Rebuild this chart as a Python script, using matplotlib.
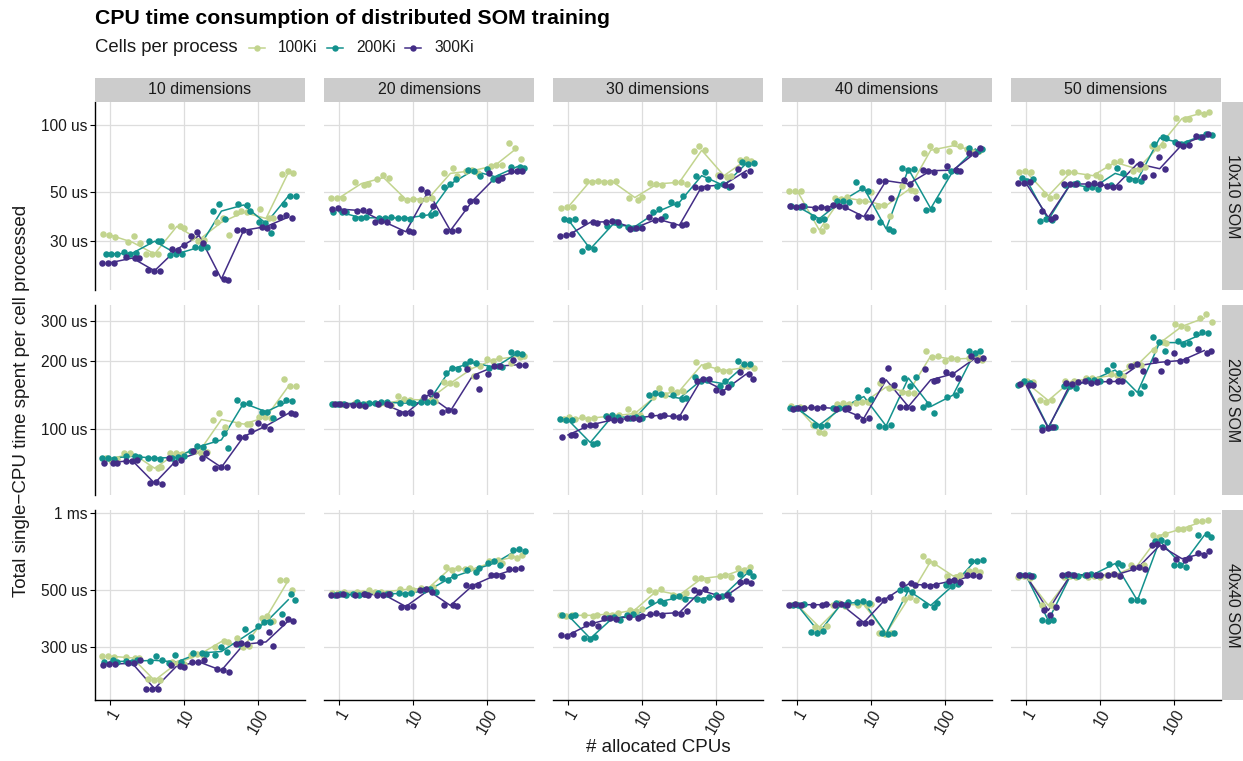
import numpy as np
import matplotlib
matplotlib.use("Agg")
import matplotlib.pyplot as plt
from matplotlib.lines import Line2D
from matplotlib.patches import Rectangle
from matplotlib.ticker import NullLocator

plt.rcParams['font.family'] = ['Liberation Sans', 'DejaVu Sans']

# ---------------- data ----------------
X_CPUS = [1, 2, 4, 8, 16, 32, 64, 128, 256]
DIMS = ["10 dimensions", "20 dimensions", "30 dimensions", "40 dimensions", "50 dimensions"]
SOMS = ["10x10 SOM", "20x20 SOM", "40x40 SOM"]
SERIES = ["100Ki", "200Ki", "300Ki"]
COLORS = ["#C2D48E", "#13918D", "#432D86"]
YTICKS = [[30, 50, 100], [100, 200, 300], [300, 500, 1000]]
YTICKLABELS = [["30 us", "50 us", "100 us"], ["100 us", "200 us", "300 us"], ["300 us", "500 us", "1 ms"]]
XTICKS = [1, 10, 100]
XTICKLABELS = ["1", "10", "100"]

# values in microseconds, three replicate runs per CPU count
# ---- 10x10 SOM ----
s10_d10_100 = [(32.5,32,31.5),(29.7,31.6,29.5),(26.3,26.3,26.3),(35.2,35,34.5),(31.5,30,30.5),(36.5,38,32),(40,41,40.5),(42,38,38),(60,62,61)]
s10_d10_200 = [(26.3,26.3,26.3),(26.9,26.3,26.5),(30,30,30),(26.1,26.3,26.3),(28.2,28,28.3),(41,44.2,37.9),(44.3,43.7,41.2),(36.5,36.1,32.6),(44.2,47.8,47.8)]
s10_d10_300 = [(24,23.9,24),(25.4,25.2,25.2),(22.2,22.1,22.0),(27.6,27.3,28.8),(31.8,32.9,29.4),(21.6,20.3,20.1),(33.6,33.6,33.0),(34.9,34.3,35),(38.5,39.4,38.1)]
s10_d20_100 = [(47.2,47,47),(55.3,53.9,54.5),(57.2,59.8,58),(46.9,46.1,46.3),(46.1,46.6,46.9),(60.6,63.9,59.2),(62.3,62.7,60.6),(65.4,66.3,65.8),(82.7,79,70.6)]
s10_d20_200 = [(40.7,40.7,40.7),(38.2,38.1,38.4),(38.3,38.1,38.4),(38.1,38.1,37.9),(39.4,39.2,40.1),(52.8,54.3,57.2),(62.9,62.3,59.2),(63.3,57.2,58.6),(65,65,64)]
s10_d20_300 = [(41.9,42.2,41.2),(41.2,41.5,41.2),(36.5,37.1,36.8),(33.1,33.2,33.1),(51.6,50.2,43.3),(33.5,33.3,33.8),(42.4,45.7,45.7),(60.6,56.6,57.8),(62.3,62,62)]
s10_d30_100 = [(42.4,43,42.7),(56.2,55.3,56),(55.6,55.6,55.8),(47.2,46.1,47.5),(54.7,54.3,54),(55.6,55.3,54.3),(76.7,80.2,77),(59.8,58.2,59.2),(69.6,70.2,68.8)]
s10_d30_200 = [(37.8,37.4,37.6),(27.2,28.2,27.7),(35.3,36.5,35.6),(34.9,34.4,34.9),(40.7,42.1,38.9),(44.9,44.2,47.8),(59.2,61.3,57.0),(53.4,54.3,52.5),(67.9,66.5,67.2)]
s10_d30_300 = [(31.6,31.9,32.3),(36.5,36.8,36.2),(36.8,37.0,36.5),(34.1,34.4,34.5),(38.4,37.4,37.8),(35.4,35.4,35.8),(52.8,52.1,52.8),(59.2,53.9,53.4),(63.4,59.6,62.3)]
s10_d40_100 = [(50.7,50.7,50.7),(33.7,33.5,35.0),(47.2,46.5,47.5),(45.7,45.7,50),(43.4,43.7,39.1),(53.4,51.1,50.7),(74.9,80.2,77),(76.7,82.7,80.7),(78,75.4,76.7)]
s10_d40_200 = [(43.1,43,43.3),(38.4,37.4,37.9),(45.4,45.7,44.9),(55.3,52.2,50.7),(36.8,34.1,33.5),(64.0,63.0,63.4),(41.3,42.1,46.1),(59.2,62.1,62.3),(79,76.7,78)]
s10_d40_300 = [(43.4,43.0,43.1),(42.2,42.6,42.4),(43.7,43.4,43.0),(39.1,38.4,38.7),(56.2,56.2,47.0),(56.6,54.3,46.9),(62.7,62.3,61.3),(65.6,62.7,62.3),(74.9,74.2,79)]
s10_d50_100 = [(61.3,62.3,61.7),(49,46.9,48),(61.3,61.7,61.3),(59.2,59.8,58.2),(65.6,68.0,69.2),(62.3,63.4,64.5),(80.7,78.7,81.6),(108,106,107),(115,112,114)]
s10_d50_200 = [(57.7,56.2,57.2),(37.1,37.9,37.4),(54,54.3,54.7),(52.1,52.5,51.6),(53.9,63.8,60.6),(57.2,56.6,56.2),(81.9,88.1,87.5),(83.6,82.2,82.9),(88.1,91.1,90.2)]
s10_d50_300 = [(54.7,54.7,55.3),(40.9,37.9,38.4),(54.3,54.3,54.3),(54.3,54.7,54.3),(53.4,52.5,52.8),(69.2,67,58.6),(59.8,71.6,63.6),(82.2,80.7,81.6),(89.6,88.1,91.1)]
# ---- 20x20 SOM ----
s20_d10_100 = [(74.2,72.9,73.5),(78.6,78,75.4),(67,67,68.1),(78.6,78,77.5),(79.9,78.6,79.3),(110,118,102.4),(105,105,105),(112.6,113.3,111.5),(166.4,154,154)]
s20_d10_200 = [(74.2,74.2,73.5),(75.6,75.6,75.2),(74.2,74.2,73.5),(74.2,74.9,75.6),(79.9,84.1,83.5),(89.4,95.7,82.2),(134,129,130),(119,119,111.5),(129.9,133.5,132.4)]
s20_d10_300 = [(70.5,71,71),(72.4,72.4,72.9),(57.5,58,57.1),(74.2,71,72.9),(80.2,74.2,78.6),(67,68.1,67.6),(92.5,92.5,98),(106,103,99.7),(118,117,116.5)]
s20_d20_100 = [(129,129,128),(130,127.7,129),(129,130,128),(140,135,134),(134,134,132.6),(160.4,159,158.3),(185.5,172,189),(203,200,205.6),(195,208.7,210)]
s20_d20_200 = [(129,129,129),(132,129,130),(130,131,132),(130,131,130),(131,131,132),(177.5,185.5,183.6),(194,198.6,196.2),(185.5,189,187),(217.7,216,214.5)]
s20_d20_300 = [(129,129,127.7),(127.7,127.7,126.6),(129,129,127.7),(118,117,117),(139,146,141),(119,121.4,120),(183.6,172,149.5),(174,190,189),(202,192,192)]
s20_d30_100 = [(111,112.6,110.5),(112.6,110.4,111.5),(114,113,115.3),(122,117,115),(139,151.6,141),(149.5,146,147),(197,189,192),(183.6,181,180.6),(187,189,185.5)]
s20_d30_200 = [(110.4,109.6,108.9),(87.9,85.8,87),(114,115.3,113),(111.5,112.6,111.5),(141,143.9,142.5),(141,135,136.6),(170,162,164.7),(154,162,158.3),(200,194,194)]
s20_d30_300 = [(92.5,94,94),(103,104,104),(111.5,108.9,109.6),(111.5,111.5,110.4),(115,114,114.6),(114,112.6,113.3),(163.6,166,166),(148,146,153),(179.3,174.7,167)]
s20_d40_100 = [(126.4,125,124.2),(104,97.3,96.3),(129,130,128.5),(130,132.1,131),(159,151.6,153),(146,144.8,144),(222,208.7,210),(198.6,205.6,203.5),(205.6,208,202)]
s20_d40_200 = [(123.4,123.4,122.2),(104,103,104),(123.4,123.4,123.4),(139,148.5,136),(103,102.4,104),(167.8,155,169.5),(125.5,129,118),(138,141,148),(222,216,220)]
s20_d40_300 = [(122,123.4,123.4),(125.5,123.4,124.5),(122.6,122.6,123.4),(114,108.9,111.5),(164.7,185.5,156),(125.5,125.5,123.4),(183.6,162,164.7),(179,175,167.8),(209,202,205.6)]
s20_d50_100 = [(159,162,160.4),(133.5,132,134.8),(162,162,160.4),(167.5,167.5,166),(175,173,171.6),(189,194,192),(224,241,239.6),(291,284,279),(309,322,296)]
s20_d50_200 = [(156.5,162,159),(102.4,101.7,101.7),(154,155,151.5),(165,165,163.6),(182,192,177.5),(144.8,144.8,154),(254.4,241,222),(243.5,238,240.5),(263,269,265)]
s20_d50_300 = [(158,156.5,156.5),(99,100.7,101.7),(159,158,160.4),(162,160,161.2),(162,162,163.6),(190,194,181),(202,181,197),(217.6,198.6,200.8),(225,216,222)]
# ---- 40x40 SOM ----
s40_d10_100 = [(277,277,275),(275,273,273),(225,223,223),(263,260,259),(281,283,281),(300,319,316),(327,301,303),(391,396,380),(547,547,500)]
s40_d10_200 = [(263,269,264),(265,263,267),(265,277,267),(260,281,263),(285,285,283),(279,300,289),(308,354,329),(365,376,378),(406,483,460)]
s40_d10_300 = [(257,259,258),(260,260,267),(207,207,207),(257,254,252),(263,263,267),(246,244,241),(308,312,308),(315,345,303),(373,388,380)]
s40_d20_100 = [(490,488,492),(495,490,500),(493,495,490),(505,510,500),(510,505,515),(620,600,610),(605,610,600),(650,660,640),(680,670,690)]
s40_d20_200 = [(482,485,480),(483,480,485),(487,483,485),(487,485,490),(500,505,495),(560,550,570),(600,590,610),(640,650,630),(720,728,710)]
s40_d20_300 = [(482,480,485),(482,485,480),(482,480,484),(433,430,436),(500,505,495),(437,440,435),(523,520,526),(572,575,570),(609,605,612)]
s40_d30_100 = [(400,398,402),(400,398,402),(405,402,408),(420,415,425),(500,495,505),(480,470,490),(557,560,550),(570,575,565),(610,600,620)]
s40_d30_200 = [(400,398,402),(325,322,328),(390,395,385),(400,405,395),(450,455,445),(470,475,465),(465,460,470),(480,475,485),(580,590,570)]
s40_d30_300 = [(335,332,338),(370,375,365),(390,392,388),(395,392,398),(405,410,400),(410,405,415),(500,495,505),(470,480,465),(540,545,535)]
s40_d40_100 = [(440,442,438),(360,355,365),(440,445,435),(440,438,442),(340,338,342),(465,470,460),(683,650,640),(570,565,575),(597,600,590)]
s40_d40_200 = [(440,438,442),(343,340,346),(445,440,450),(450,455,445),(340,338,342),(500,505,495),(437,430,445),(523,520,530),(654,650,660)]
s40_d40_300 = [(440,442,438),(440,438,442),(440,442,438),(375,372,378),(465,460,470),(530,535,525),(523,520,526),(546,550,540),(572,575,568)]
s40_d50_100 = [(566,570,560),(437,440,432),(566,570,562),(566,568,564),(575,578,570),(626,620,630),(820,810,830),(870,865,875),(935,930,940)]
s40_d50_200 = [(572,575,570),(382,380,385),(572,575,570),(576,578,574),(637,640,630),(457,460,455),(782,790,775),(626,630,620),(820,830,810)]
s40_d50_300 = [(572,575,568),(418,400,430),(576,580,572),(574,576,572),(574,578,570),(610,615,605),(750,760,740),(665,660,670),(700,690,710)]

PANEL_DATA = [
    [[s10_d10_100, s10_d10_200, s10_d10_300], [s10_d20_100, s10_d20_200, s10_d20_300],
     [s10_d30_100, s10_d30_200, s10_d30_300], [s10_d40_100, s10_d40_200, s10_d40_300],
     [s10_d50_100, s10_d50_200, s10_d50_300]],
    [[s20_d10_100, s20_d10_200, s20_d10_300], [s20_d20_100, s20_d20_200, s20_d20_300],
     [s20_d30_100, s20_d30_200, s20_d30_300], [s20_d40_100, s20_d40_200, s20_d40_300],
     [s20_d50_100, s20_d50_200, s20_d50_300]],
    [[s40_d10_100, s40_d10_200, s40_d10_300], [s40_d20_100, s40_d20_200, s40_d20_300],
     [s40_d30_100, s40_d30_200, s40_d30_300], [s40_d40_100, s40_d40_200, s40_d40_300],
     [s40_d50_100, s40_d50_200, s40_d50_300]],
]

# ---------------- layout ----------------
W, H = 1243, 761
fig = plt.figure(figsize=(W / 100, H / 100), dpi=100)
fig.patch.set_facecolor("white")

COL_LEFT = [95, 324, 553, 782, 1011]
PW = 210
ROW_TOP = [102, 305, 510]
ROW_H = [188, 190, 190]
YLIMS = [(18.1, 127), (51, 353), (187, 1030)]
XLIM = (0.627, 431)
JIT = [(-0.09, -0.01, 0.07), (-0.06, 0.02, 0.10), (-0.11, -0.03, 0.05), (-0.08, 0.04, 0.09)]
STRIP_FILL = "#CCCCCC"
GRID = "#DDDDDD"
TXT = "#1A1A1A"


def fx(px):
    return px / W


def fy(py):
    return 1 - py / H


for r in range(3):
    for c in range(5):
        ax = fig.add_axes([fx(COL_LEFT[c]), fy(ROW_TOP[r] + ROW_H[r]), PW / W, ROW_H[r] / H])
        ax.set_xscale("log")
        ax.set_yscale("log")
        ax.set_xlim(*XLIM)
        ax.set_ylim(*YLIMS[r])
        ax.set_xticks(XTICKS)
        ax.set_xticklabels(XTICKLABELS)
        ax.set_yticks(YTICKS[r])
        ax.set_yticklabels(YTICKLABELS[r])
        ax.xaxis.set_minor_locator(NullLocator())
        ax.yaxis.set_minor_locator(NullLocator())
        ax.grid(True, which="major", color=GRID, linewidth=0.9)
        ax.set_axisbelow(True)
        for sp in ax.spines.values():
            sp.set_visible(False)
        if c == 0:
            ax.spines["left"].set_visible(True)
            ax.spines["left"].set_linewidth(1.0)
            ax.spines["left"].set_color("black")
            ax.tick_params(axis="y", length=3.4, width=0.8, color="black", pad=2,
                           labelsize=11.2, labelcolor=TXT)
        else:
            ax.tick_params(axis="y", length=0, labelleft=False)
        if r == 2:
            ax.spines["bottom"].set_visible(True)
            ax.spines["bottom"].set_linewidth(1.0)
            ax.spines["bottom"].set_color("black")
            ax.tick_params(axis="x", length=3.4, width=0.8, color="black", pad=1.5,
                           labelsize=11.2, labelcolor=TXT)
            for lab in ax.get_xticklabels():
                lab.set_rotation(60)
                lab.set_ha("right")
                lab.set_va("top")
                lab.set_rotation_mode("anchor")
        else:
            ax.tick_params(axis="x", length=0, labelbottom=False)

        for s in range(3):
            reps = np.array(PANEL_DATA[r][c][s], dtype=float)
            med = np.median(reps, axis=1)
            ax.plot(X_CPUS, med, color=COLORS[s], linewidth=1.1, zorder=2 + s * 0.1)
        for s in range(3):
            reps = np.array(PANEL_DATA[r][c][s], dtype=float)
            xs, ys = [], []
            for k, xv in enumerate(X_CPUS):
                offs = JIT[(r + 2 * c + s + k) % len(JIT)]
                for j in range(3):
                    xs.append(xv * 10 ** offs[j])
                    ys.append(reps[k, j])
            ax.scatter(xs, ys, s=22, color=COLORS[s], linewidths=0, zorder=3 + s * 0.1)

# top strips
for c in range(5):
    fig.add_artist(Rectangle((fx(COL_LEFT[c]), fy(102)), PW / W, 24 / H,
                             transform=fig.transFigure, facecolor=STRIP_FILL, edgecolor="none"))
    fig.text(fx(COL_LEFT[c] + PW / 2), fy(90), DIMS[c], ha="center", va="center",
             fontsize=11.5, color=TXT)
# right strips
for r in range(3):
    fig.add_artist(Rectangle((fx(1222), fy(ROW_TOP[r] + ROW_H[r])), 21 / W, ROW_H[r] / H,
                             transform=fig.transFigure, facecolor=STRIP_FILL, edgecolor="none"))
    fig.text(fx(1232.5), fy(ROW_TOP[r] + ROW_H[r] / 2), SOMS[r], ha="center", va="center",
             rotation=-90, fontsize=11.5, color=TXT)

# titles
fig.text(fx(95), fy(18), "CPU time consumption of distributed SOM training",
         ha="left", va="center", fontsize=15.3, fontweight="bold", color="black")
fig.text(fx(658), fy(748), "# allocated CPUs", ha="center", va="center", fontsize=13.5, color=TXT)
fig.text(fx(22), fy(401), "Total single\u2212CPU time spent per cell processed", ha="center",
         va="center", rotation=90, fontsize=13.5, color=TXT)

# legend
fig.text(fx(95), fy(48), "Cells per process", ha="left", va="center", fontsize=13.3, color=TXT)
key_x = [257, 335, 413]
for s in range(3):
    fig.add_artist(Line2D([fx(key_x[s] - 8), fx(key_x[s] + 8)], [fy(48), fy(48)],
                          transform=fig.transFigure, color=COLORS[s], linewidth=1.1))
    fig.add_artist(Line2D([fx(key_x[s])], [fy(48)], transform=fig.transFigure, color=COLORS[s],
                          marker="o", markersize=4.6, markeredgewidth=0, linestyle="none"))
    fig.text(fx(key_x[s] + 21), fy(48), SERIES[s], ha="left", va="center", fontsize=11.2, color=TXT)

fig.savefig("out.png", dpi=100)
